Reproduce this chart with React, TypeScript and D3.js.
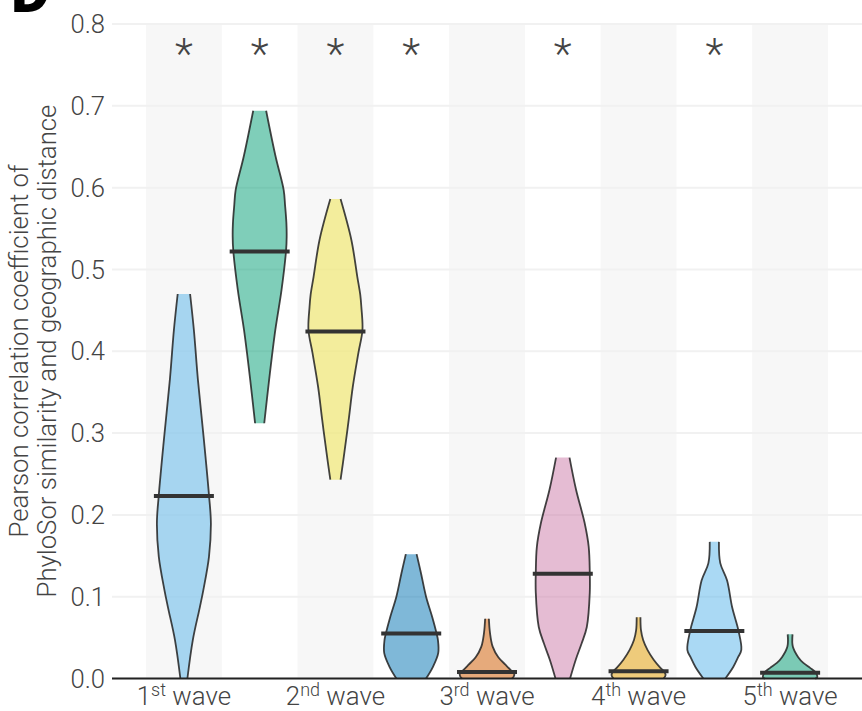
import React from 'react';
import * as d3 from 'd3';

const width = 862;
const height = 711;

// wave labels: [number, superscript]
const waveLabels = [['1', 'st'], ['2', 'nd'], ['3', 'rd'], ['4', 'th'], ['5', 'th']];
const yTicks = [0, 0.1, 0.2, 0.3, 0.4, 0.5, 0.6, 0.7, 0.8];

const groups = ['a', 'b', 'c', 'd', 'e', 'f', 'g', 'h', 'i'];
const colors = ['#56B4E9', '#009E73', '#F0E442', '#0072B2', '#D55E00', '#CC79A7', '#E69F00', '#56B4E9', '#009E73'];
const means = [0.223, 0.522, 0.424, 0.055, 0.008, 0.128, 0.009, 0.058, 0.007];
const signif = [true, true, true, true, false, true, false, true, false];

// violin outlines: correlation value and relative width
const values1 = [0.47, 0.426, 0.365, 0.292, 0.224, 0.19, 0.149, 0.108, 0.087, 0.047, 0];
const widths1 = [0.23, 0.37, 0.52, 0.74, 0.93, 1, 0.93, 0.72, 0.59, 0.33, 0.13];
const values2 = [0.694, 0.638, 0.597, 0.579, 0.557, 0.54, 0.524, 0.475, 0.426, 0.365, 0.312];
const widths2 = [0.24, 0.59, 0.89, 0.94, 0.99, 1, 0.98, 0.81, 0.58, 0.35, 0.17];
const values3 = [0.586, 0.536, 0.491, 0.469, 0.454, 0.426, 0.398, 0.356, 0.316, 0.276, 0.243];
const widths3 = [0.19, 0.59, 0.81, 0.92, 0.96, 1, 0.85, 0.64, 0.49, 0.33, 0.19];
const values4 = [0.152, 0.129, 0.1, 0.075, 0.055, 0.047, 0.031, 0.014, 0];
const widths4 = [0.2, 0.36, 0.55, 0.78, 0.94, 0.99, 1, 0.8, 0.55];
const values5 = [0.073, 0.056, 0.039, 0.026, 0.017, 0.01, 0.007, 0.003, 0];
const widths5 = [0.07, 0.11, 0.21, 0.42, 0.68, 0.89, 1, 1, 0.93];
const values6 = [0.27, 0.231, 0.19, 0.161, 0.129, 0.105, 0.063, 0.043, 0.023, 0];
const widths6 = [0.25, 0.49, 0.81, 0.96, 1, 1, 0.89, 0.7, 0.48, 0.27];
const values7 = [0.075, 0.059, 0.047, 0.035, 0.023, 0.013, 0.008, 0.004, 0];
const widths7 = [0.07, 0.09, 0.17, 0.33, 0.56, 0.81, 0.96, 1, 0.93];
const values8 = [0.167, 0.141, 0.12, 0.087, 0.059, 0.035, 0.026, 0.014, 0];
const widths8 = [0.17, 0.22, 0.47, 0.66, 0.89, 1, 0.88, 0.7, 0.41];
const values9 = [0.054, 0.039, 0.026, 0.019, 0.013, 0.008, 0.004, 0.001, 0];
const widths9 = [0.09, 0.1, 0.3, 0.49, 0.74, 0.93, 1, 1, 0.93];

const allValues = [values1, values2, values3, values4, values5, values6, values7, values8, values9];
const allWidths = [widths1, widths2, widths3, widths4, widths5, widths6, widths7, widths8, widths9];

const font = "Roboto, sans-serif";
const textColor = '#444';

const y = d3.scaleLinear().domain([0, 0.8]).range([678.5, 24]);
const x = d3.scaleBand<string>().domain(groups).range([146, 828]);
const halfWidth = d3.scaleLinear().domain([0, 1]).range([0, 27]);
const curve = d3.curveCatmullRom.alpha(0.5);

const App = () => {
  return (
    <svg
      width={width}
      height={height}
      viewBox={`0 0 ${width} ${height}`}
      style={{ position: 'absolute', left: 0, top: 0, display: 'block', fontFamily: font, fontWeight: 300 }}
    >
      <rect width={width} height={height} fill="#fff" />

      {/* alternating background stripes */}
      {groups.map((g, i) =>
        i % 2 === 0 ? (
          <rect key={g} x={x(g)} y={y(0.8)} width={x.bandwidth()} height={y(0) - y(0.8)} fill="#f7f7f7" />
        ) : null
      )}

      {yTicks.map(t => (
        <line key={t} x1={112} x2={862} y1={y(t)} y2={y(t)} stroke="#f1f1f1" strokeWidth={2} />
      ))}

      {groups.map((g, i) => {
        const cx = (x(g) as number) + x.bandwidth() / 2;
        const pts = allValues[i].map((v, k) => ({ v, w: allWidths[i][k] }));
        const area = d3.area<{ v: number; w: number }>()
          .y(d => y(d.v))
          .x0(d => cx - halfWidth(d.w))
          .x1(d => cx + halfWidth(d.w))
          .curve(curve);
        const left = d3.line<{ v: number; w: number }>()
          .x(d => cx - halfWidth(d.w))
          .y(d => y(d.v))
          .curve(curve);
        const right = d3.line<{ v: number; w: number }>()
          .x(d => cx + halfWidth(d.w))
          .y(d => y(d.v))
          .curve(curve);
        return (
          <g key={g}>
            <path d={area(pts) as string} fill={colors[i]} fillOpacity={0.5} />
            <path d={left(pts) as string} fill="none" stroke="#222" strokeOpacity={0.85} strokeWidth={1.8} />
            <path d={right(pts) as string} fill="none" stroke="#222" strokeOpacity={0.85} strokeWidth={1.8} />
            <line x1={cx - 30} x2={cx + 30} y1={y(means[i])} y2={y(means[i])} stroke="#333" strokeWidth={4} />
            {signif[i] && (
              <text x={cx} y={68} textAnchor="middle" fontSize={42} fill="#444">*</text>
            )}
          </g>
        );
      })}

      <line x1={112} x2={862} y1={y(0)} y2={y(0)} stroke="#222" strokeWidth={1.8} />

      {yTicks.map(t => (
        <text key={t} x={105} y={y(t)} dy="0.36em" textAnchor="end" fontSize={25.6} fill={textColor}>
          {t === 0 ? '0.0' : d3.format('.1f')(t)}
        </text>
      ))}

      {waveLabels.map(([n, sup], i) => {
        const g = groups[i * 2];
        const cx = (x(g) as number) + x.bandwidth() / 2;
        return (
          <text key={n} x={cx} y={705} textAnchor="middle" fontSize={25.8} fill={textColor}>
            {n}
            <tspan dy={-9} fontSize={18}>{sup}</tspan>
            <tspan dy={9}> wave</tspan>
          </text>
        );
      })}

      <text transform="translate(28,351) rotate(-90)" textAnchor="middle" fontSize={25.8} fill={textColor}>
        Pearson correlation coefficient of
      </text>
      <text transform="translate(56,351) rotate(-90)" textAnchor="middle" fontSize={25.8} fill={textColor}>
        PhyloSor similarity and geographic distance
      </text>

      <text x={11} y={12} fontSize={60} fontWeight={900} fill="#000">D</text>
    </svg>
  );
};

export default App;
